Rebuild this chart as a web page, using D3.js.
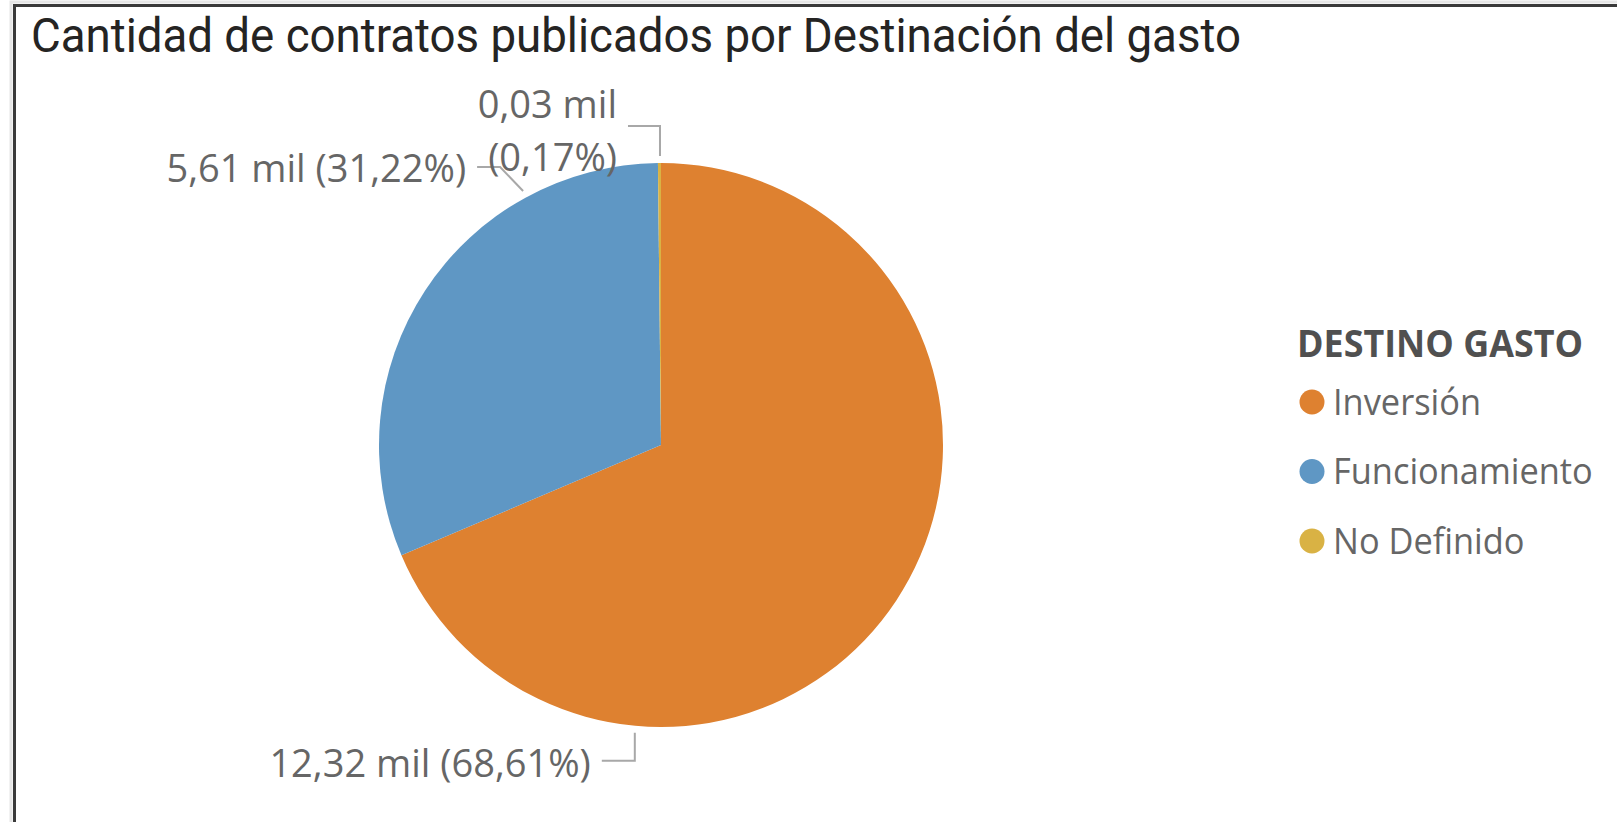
<!DOCTYPE html>
<html>
<head>
<meta charset="utf-8">
<script src="https://cdn.jsdelivr.net/npm/d3@7"></script>
<style>
  html, body { margin: 0; padding: 0; background: #fff; overflow: hidden; }
  svg { display: block; }
</style>
</head>
<body>
<svg id="chart" width="1617" height="822"></svg>
<script>
// ---- DATA ----
const categories = ["Inversión", "Funcionamiento", "No Definido"];
const values = [12320, 5606, 31];          // number of contracts
const colors = ["#DE8130", "#5F97C4", "#D9B244"];
const chartTitle = "Cantidad de contratos publicados por Destinación del gasto";
const legendTitle = "DESTINO GASTO";

// ---- LAYOUT ----
const W = 1617, H = 822;
const cx = 661, cy = 445, R = 282;
// leader layout per slice: angle (deg, clockwise from 12 o'clock) where the leader starts,
// elbow offset and horizontal arm length
const leaderLayout = {
  "Inversión":      { angle: 185.2, elbow: [0, 28],    arm: -33, lineOffsets: [3] },
  "Funcionamiento": { angle: 331.5, elbow: [-23, -24], arm: -23, lineOffsets: [1] },
  "No Definido":    { angle: 359.8, elbow: [0, -30],   arm: -32, lineOffsets: [-22, 31], twoLines: true }
};

const svg = d3.select("#chart");

// frame
svg.append("rect").attr("x", 11).attr("y", 2).attr("width", W + 20).attr("height", H + 20)
  .attr("fill", "none").attr("stroke", "#e6e6e6").attr("stroke-width", 3);
svg.append("rect").attr("x", 14.5).attr("y", 5.5).attr("width", W + 20).attr("height", H + 20)
  .attr("fill", "none").attr("stroke", "#3a3a3a").attr("stroke-width", 3);

// title
svg.append("text")
  .attr("x", 31).attr("y", 52)
  .attr("font-family", "Roboto, 'DejaVu Sans', sans-serif")
  .attr("font-size", 48)
  .attr("fill", "#252423")
  .attr("textLength", 1210)
  .attr("lengthAdjust", "spacingAndGlyphs")
  .text(chartTitle);

const data = categories.map((c, i) => ({ key: c, value: values[i], color: colors[i] }));
const total = d3.sum(values);

const pie = d3.pie().sort(null).value(d => d.value).startAngle(0).endAngle(2 * Math.PI);
const arc = d3.arc().innerRadius(0).outerRadius(R);
const arcs = pie(data);

const g = svg.append("g").attr("transform", `translate(${cx},${cy})`);
g.selectAll("path.slice").data(arcs).enter().append("path")
  .attr("class", "slice")
  .attr("d", arc)
  .attr("fill", d => d.data.color);

// labels
const fmtNum = v => (v / 1000).toFixed(2).replace(".", ",") + " mil";
const fmtPct = v => "(" + (v / total * 100).toFixed(2).replace(".", ",") + "%)";
const labelFont = "'Open Sans', 'Noto Sans', sans-serif";

arcs.forEach(a => {
  const L = leaderLayout[a.data.key];
  const ang = L.angle * Math.PI / 180;
  const r0 = R + 7;
  const p0 = [Math.sin(ang) * r0, -Math.cos(ang) * r0];
  const p1 = [p0[0] + L.elbow[0], p0[1] + L.elbow[1]];
  const p2 = [p1[0] + L.arm, p1[1]];
  g.append("polyline")
    .attr("points", [p0, p1, p2].map(p => p.join(",")).join(" "))
    .attr("fill", "none").attr("stroke", "#a8a8a8").attr("stroke-width", 2);
  const lines = L.twoLines ? [fmtNum(a.data.value), fmtPct(a.data.value)]
                           : [fmtNum(a.data.value) + " " + fmtPct(a.data.value)];
  lines.forEach((t, i) => {
    g.append("text")
      .attr("x", p2[0] - 11)
      .attr("y", p2[1] + L.lineOffsets[i])
      .attr("dy", "0.36em")
      .attr("text-anchor", "end")
      .attr("font-family", labelFont)
      .attr("font-size", 38)
      .attr("fill", "#666666")
      .text(t);
  });
});

// legend
const lg = svg.append("g").attr("transform", "translate(1297,0)");
lg.append("text")
  .attr("x", 0).attr("y", 357)
  .attr("font-family", labelFont)
  .attr("font-weight", "bold")
  .attr("font-size", 37)
  .attr("fill", "#505050")
  .attr("textLength", 286)
  .attr("lengthAdjust", "spacingAndGlyphs")
  .text(legendTitle);

const legendY = d3.scalePoint().domain(categories).range([402, 541]);
const items = lg.selectAll("g.item").data(data).enter().append("g")
  .attr("class", "item")
  .attr("transform", d => `translate(0,${legendY(d.key)})`);
items.append("circle").attr("cx", 15).attr("cy", 0).attr("r", 12.5).attr("fill", d => d.color);
items.append("text")
  .attr("x", 36).attr("y", 0).attr("dy", "0.36em")
  .attr("font-family", labelFont)
  .attr("font-size", 36)
  .attr("fill", "#666666")
  .text(d => d.key)
  .each(function () {
    const len = this.getComputedTextLength();
    d3.select(this).attr("textLength", len * 0.955).attr("lengthAdjust", "spacingAndGlyphs");
  });
</script>
</body>
</html>
